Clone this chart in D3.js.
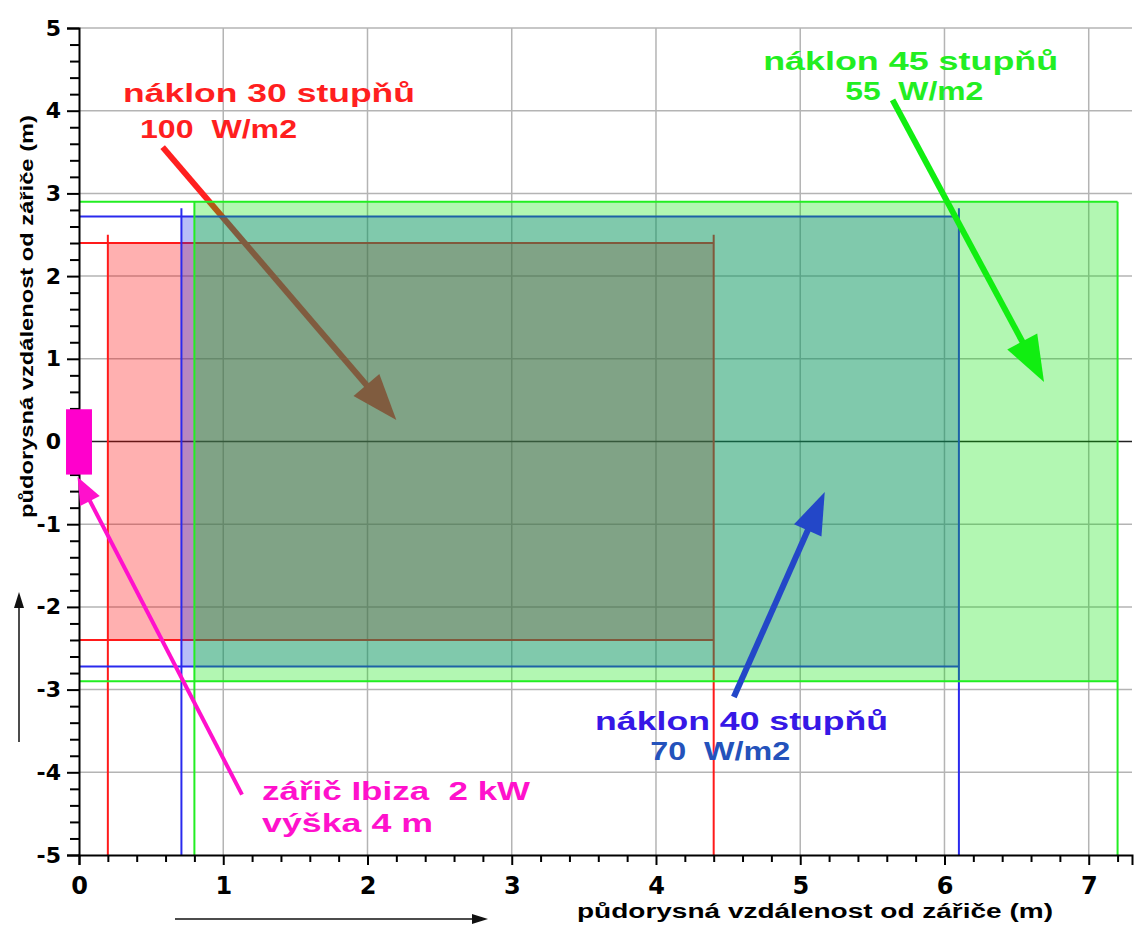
<!DOCTYPE html>
<html>
<head>
<meta charset="utf-8">
<script src="https://cdn.jsdelivr.net/npm/d3@7"></script>
<style>
  body { margin: 0; background: #ffffff; }
  svg { display: block; }
  text { white-space: pre; }
  .axis path, .axis line { stroke: #000; stroke-width: 2; }
  .axis text { font-family: "DejaVu Sans", sans-serif; font-weight: bold; fill: #000; }
</style>
</head>
<body>
<svg id="chart" width="1134" height="929"></svg>
<script>
// tilt zones of the heater (stupňů), intensity and lit rectangle (m)
const tilts = [30, 40, 45];
const power = [100, 70, 55];
const zoneLeft = [0.2, 0.71, 0.8];
const zoneRight = [4.4, 6.1, 7.2];
const zoneHalf = [2.4, 2.72, 2.9];
const markTop = [2.5, 2.82, 2.9];

// heater footprint
const heaterX = [-0.09, 0.09];
const heaterY = [-0.4, 0.39];

const xTicks = [0, 1, 2, 3, 4, 5, 6, 7];
const yTicks = [-5, -4, -3, -2, -1, 0, 1, 2, 3, 4, 5];

const WIDTH = 1134, HEIGHT = 929;
const MARGINS = { top: 28, right: 2, bottom: 74, left: 79 };

const svg = d3.select('#chart');

const x = d3.scaleLinear().domain([0, 7.3]).range([MARGINS.left, WIDTH - MARGINS.right]);
const y = d3.scaleLinear().domain([-5, 5]).range([HEIGHT - MARGINS.bottom, MARGINS.top]);

// colours per zone: 30 / 40 / 45
const fillCol = ['rgb(255,0,0)', 'rgb(20,40,230)', 'rgb(0,230,0)'];
const fillOp = [0.31, 0.3, 0.3];
const lineCol = ['#ff1a1a', '#2a2aee', '#22ee22'];

// grid
svg.append('g').selectAll('line.gx')
  .data(xTicks.filter(d => d > 0))
  .join('line')
  .attr('x1', d => x(d)).attr('x2', d => x(d))
  .attr('y1', y(5)).attr('y2', y(-5))
  .attr('stroke', '#b4b4b4').attr('stroke-width', 1.5);

svg.append('g').selectAll('line.gy')
  .data(yTicks.filter(d => d !== 0 && d !== -5))
  .join('line')
  .attr('x1', x(0)).attr('x2', x(7.3))
  .attr('y1', d => y(d)).attr('y2', d => y(d))
  .attr('stroke', '#b4b4b4').attr('stroke-width', 1.5);

svg.append('line')
  .attr('x1', x(0)).attr('x2', x(7.3))
  .attr('y1', y(0)).attr('y2', y(0))
  .attr('stroke', '#222').attr('stroke-width', 1.5);

// arrow helper: line + filled head, ends in data units
function arrow(g, x1, y1, x2, y2, color, width, headLen, headHalf) {
  const px1 = x(x1), py1 = y(y1), px2 = x(x2), py2 = y(y2);
  const len = Math.hypot(px2 - px1, py2 - py1);
  const ux = (px2 - px1) / len, uy = (py2 - py1) / len;
  const bx = px2 - ux * headLen, by = py2 - uy * headLen;
  g.append('line')
    .attr('x1', px1).attr('y1', py1).attr('x2', bx + ux * 2).attr('y2', by + uy * 2)
    .attr('stroke', color).attr('stroke-width', width);
  g.append('polygon')
    .attr('points', [[px2, py2], [bx - uy * headHalf, by + ux * headHalf], [bx + uy * headHalf, by - ux * headHalf]].join(' '))
    .attr('fill', color);
}

const zones = svg.append('g');

tilts.forEach((t, i) => {
  const g = zones.append('g');
  g.append('rect')
    .attr('x', x(zoneLeft[i]))
    .attr('y', y(zoneHalf[i]))
    .attr('width', x(zoneRight[i]) - x(zoneLeft[i]))
    .attr('height', y(-zoneHalf[i]) - y(zoneHalf[i]))
    .attr('fill', fillCol[i]).attr('fill-opacity', fillOp[i]);

  // horizontal edges run from the heater axis
  [zoneHalf[i], -zoneHalf[i]].forEach(v => {
    g.append('line')
      .attr('x1', x(0)).attr('x2', x(zoneRight[i]))
      .attr('y1', y(v)).attr('y2', y(v))
      .attr('stroke', lineCol[i]).attr('stroke-width', 2);
  });
  // vertical edges drop down to the x axis
  [zoneLeft[i], zoneRight[i]].forEach(v => {
    g.append('line')
      .attr('x1', x(v)).attr('x2', x(v))
      .attr('y1', y(markTop[i])).attr('y2', y(-5))
      .attr('stroke', lineCol[i]).attr('stroke-width', 2);
  });

  // the 30 degree arrow sits under the later zones
  if (i === 0) arrow(g, 0.58, 3.56, 2.2, 0.26, '#ff2020', 6, 46, 17);
});

// axes
const xAxis = svg.append('g')
  .attr('class', 'axis')
  .attr('transform', 'translate(0,' + y(-5) + ')')
  .call(d3.axisBottom(x).tickValues(xTicks).tickSize(10).tickPadding(12).tickFormat(d => String(d)));
xAxis.selectAll('text').style('font-size', '24px');

svg.append('g')
  .attr('class', 'axis')
  .attr('transform', 'translate(0,' + y(-5) + ')')
  .call(d3.axisBottom(x).tickValues(d3.range(1, 37).map(d => d / 5).filter(d => d % 1 !== 0)).tickSize(7).tickFormat(''))
  .call(g => g.select('.domain').remove());

const yAxis = svg.append('g')
  .attr('class', 'axis')
  .attr('transform', 'translate(' + x(0) + ',0)')
  .call(d3.axisLeft(y).tickValues(yTicks).tickSize(12).tickPadding(6).tickFormat(d => String(d)));
yAxis.selectAll('text').style('font-size', '22px');

svg.append('g')
  .attr('class', 'axis')
  .attr('transform', 'translate(' + x(0) + ',0)')
  .call(d3.axisLeft(y).tickValues(d3.range(-25, 25).map(d => d / 5).filter(d => d % 1 !== 0)).tickSize(9).tickFormat(''))
  .call(g => g.select('.domain').remove());

// heater
svg.append('rect')
  .attr('x', x(heaterX[0]))
  .attr('y', y(heaterY[1]))
  .attr('width', x(heaterX[1]) - x(heaterX[0]))
  .attr('height', y(heaterY[0]) - y(heaterY[1]))
  .attr('fill', '#ff00cc');

// pointer arrows
const pointers = svg.append('g');
arrow(pointers, 5.64, 4.13, 6.69, 0.72, '#11ee11', 6, 46, 17);
arrow(pointers, 4.54, -3.09, 5.17, -0.61, '#2347c8', 6, 42, 15);
arrow(pointers, 1.13, -4.27, -0.01, -0.43, '#ff11cc', 4, 27, 11);

// annotation texts: [text, x (m), baseline y (m), width px, size, colour]
const notes = [
  ['náklon 30 stupňů', 0.305, 4.105, 292, 26, '#ff1f1f'],
  ['100  W/m2', 0.423, 3.67, 157, 25, '#ff1f1f'],
  ['náklon 45 stupňů', 4.743, 4.498, 295, 26, '#22ee22'],
  ['55  W/m2', 5.312, 4.129, 138, 25, '#22ee22'],
  ['náklon 40 stupňů', 3.578, -3.483, 293, 26, '#3618e6'],
  ['70  W/m2', 3.96, -3.851, 140, 25, '#2452bb'],
  ['zářič Ibiza  2 kW', 1.269, -4.329, 268, 26, '#ff11cc'],
  ['výška 4 m', 1.269, -4.716, 171, 26, '#ff11cc']
];

svg.append('g').selectAll('text')
  .data(notes)
  .join('text')
  .attr('x', d => x(d[1]))
  .attr('y', d => y(d[2]))
  .attr('textLength', d => d[3])
  .attr('lengthAdjust', 'spacingAndGlyphs')
  .style('font-family', '"Liberation Sans", Arial, sans-serif')
  .style('font-weight', 'bold')
  .style('font-size', d => d[4] + 'px')
  .attr('fill', d => d[5])
  .text(d => d[0]);

// axis titles
svg.append('text')
  .attr('x', 577).attr('y', 918)
  .attr('textLength', 476).attr('lengthAdjust', 'spacingAndGlyphs')
  .style('font-family', '"Liberation Sans", Arial, sans-serif')
  .style('font-weight', 'bold').style('font-size', '20px')
  .text('půdorysná vzdálenost od zářiče (m)');

svg.append('text')
  .attr('transform', 'translate(33,518) rotate(-90)')
  .attr('textLength', 403).attr('lengthAdjust', 'spacingAndGlyphs')
  .style('font-family', '"Liberation Sans", Arial, sans-serif')
  .style('font-weight', 'bold').style('font-size', '19px')
  .text('půdorysná vzdálenost od zářiče (m)');

// direction arrows beside the axis titles
const dirs = svg.append('g');
dirs.append('line').attr('x1', 175).attr('x2', 474).attr('y1', 919).attr('y2', 919)
  .attr('stroke', '#111').attr('stroke-width', 1.5);
dirs.append('polygon').attr('points', '488,919 472,914 472,924').attr('fill', '#111');
dirs.append('line').attr('x1', 19).attr('x2', 19).attr('y1', 742).attr('y2', 606)
  .attr('stroke', '#111').attr('stroke-width', 1.5);
dirs.append('polygon').attr('points', '19,592 14,608 24,608').attr('fill', '#111');
</script>
</body>
</html>
